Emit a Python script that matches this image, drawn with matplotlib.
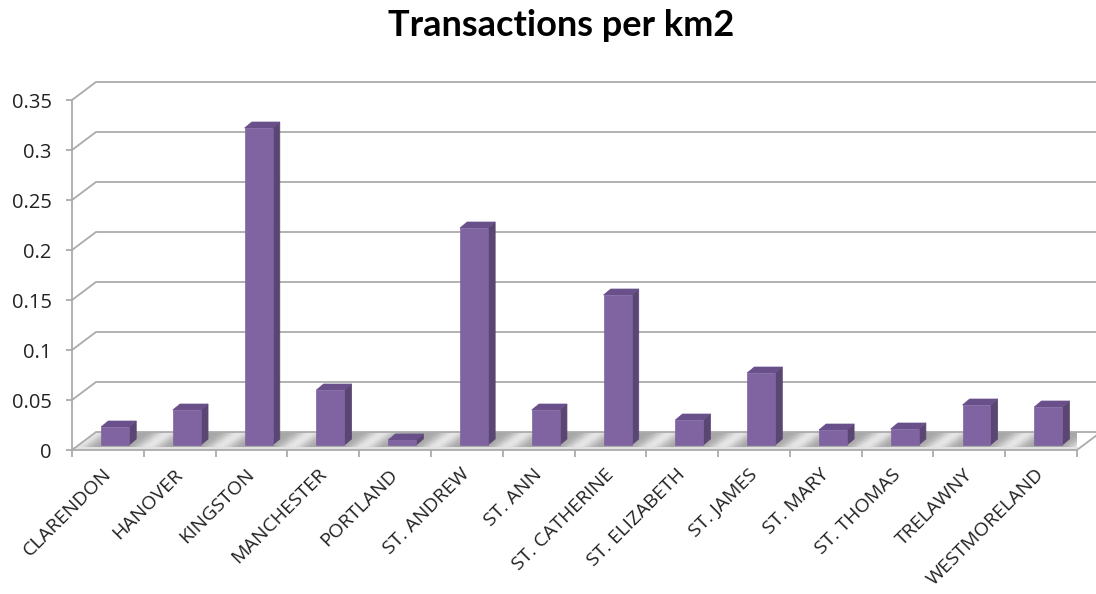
import numpy as np
import matplotlib
matplotlib.use('Agg')
import matplotlib.pyplot as plt
from matplotlib.patches import Polygon
from matplotlib.transforms import ScaledTranslation

#chart values
parishes = ['CLARENDON', 'HANOVER', 'KINGSTON', 'MANCHESTER', 'PORTLAND', 'ST. ANDREW', 'ST. ANN',
            'ST. CATHERINE', 'ST. ELIZABETH', 'ST. JAMES', 'ST. MARY', 'ST. THOMAS', 'TRELAWNY', 'WESTMORELAND']
transactions = [0.018, 0.035, 0.317, 0.055, 0.005, 0.217, 0.035, 0.150, 0.025, 0.072, 0.015, 0.016, 0.040, 0.038]
y_ticks = [0, 0.05, 0.1, 0.15, 0.2, 0.25, 0.3, 0.35]
y_labels = ['0', '0.05', '0.1', '0.15', '0.2', '0.25', '0.3', '0.35']

#size of the fake 3d look, in data units
depth_x = 24 / 71.8
depth_y = 0.018
bar_w = 0.39
bar_dx = 0.10
bar_dy = 0.005
side_x = 0.10
side_y = 0.006

grid_col = '#ababab'
front_col = '#8063a1'
side_col = '#5a4672'
top_col = '#69508a'

fig = plt.figure(figsize=(10.96, 5.94), dpi=100)
ax = fig.add_axes([72 / 1096, 144 / 594, 1005 / 1096, 350 / 594])
n = len(parishes)
ax.set_xlim(0, n)
ax.set_ylim(0, 0.35)
ax.patch.set_alpha(0)

#floor with the light streaks
xx = np.linspace(0, n + depth_x, 900)
yy = np.linspace(0, depth_y, 30)
X, Y = np.meshgrid(xx, yy)
shade = 0.5 + 0.5 * np.cos(2 * np.pi * (X - Y / depth_y * depth_x))
im = ax.imshow(shade ** 3, extent=(0, n + depth_x, 0, depth_y), origin='lower', aspect='auto',
               cmap=matplotlib.colors.LinearSegmentedColormap.from_list('floor', ['#a6a6a6', '#e6e6e6']),
               clip_on=True, zorder=1)
floor = Polygon([(0, 0), (depth_x, depth_y), (n + depth_x, depth_y), (n, 0)], closed=True,
                transform=ax.transData, fc='none', ec='none', clip_on=False)
ax.add_patch(floor)
im.set_clip_path(floor)
ax.set_xlim(0, n)
ax.set_ylim(0, 0.35)
ax.plot([0.02, n - 0.02], [0.0025, 0.0025], color='#e2e2e2', lw=2.2, zorder=1.5, clip_on=False)

#back wall grid lines
for t in y_ticks:
    ax.plot([0, depth_x, n + depth_x], [t, t + depth_y, t + depth_y], color=grid_col, lw=1.3,
            clip_on=False, zorder=2, solid_joinstyle='miter')
ax.plot([n, n + depth_x], [0, depth_y], color=grid_col, lw=1.3, clip_on=False, zorder=2)

#bars
for i, v in enumerate(transactions):
    x0 = i + 0.5 - bar_w / 2 + bar_dx
    x1 = x0 + bar_w
    y0 = bar_dy
    y1 = y0 + v
    ax.fill([x1, x1 + side_x, x1 + side_x, x1], [y0, y0 + side_y, y1 + side_y, y1], color=side_col,
            lw=0.5, clip_on=False, zorder=3)
    ax.fill([x0, x0 + side_x, x1 + side_x, x1], [y1, y1 + side_y, y1 + side_y, y1], color=top_col,
            lw=0.5, clip_on=False, zorder=3)
    ax.fill([x0, x1, x1, x0], [y0, y0, y1, y1], color=front_col, lw=0.5, clip_on=False, zorder=4)

#axes
for s in ['top', 'right']:
    ax.spines[s].set_visible(False)
for s in ['left', 'bottom']:
    ax.spines[s].set_color(grid_col)
    ax.spines[s].set_linewidth(1.3)
    ax.spines[s].set_zorder(5)

ax.set_yticks(y_ticks)
ax.set_yticklabels(y_labels, fontsize=14.5, family='Open Sans', color='#222222')
ax.tick_params(axis='y', length=4.5, width=1.3, color=grid_col, pad=10)
ax.set_xticks(np.arange(n + 1))
ax.set_xticklabels([])
ax.tick_params(axis='x', which='major', length=5, width=1.3, color=grid_col)
ax.set_xticks(np.arange(n) + 0.5, minor=True)
ax.set_xticklabels(parishes, minor=True, rotation=45, ha='right', rotation_mode='anchor',
                   fontsize=14, family='Open Sans', color='#222222')
ax.tick_params(axis='x', which='minor', length=0, pad=11)
shift = ScaledTranslation(-6 / 100, 0, fig.dpi_scale_trans)
for lab in ax.get_xticklabels(minor=True):
    lab.set_transform(lab.get_transform() + shift)

fig.text(561 / 1096, 1 - 25 / 594, 'Transactions per km2', ha='center', va='center', fontsize=26,
         fontweight='bold', family='Lato', color='black')

fig.savefig('out.png', dpi=100)
